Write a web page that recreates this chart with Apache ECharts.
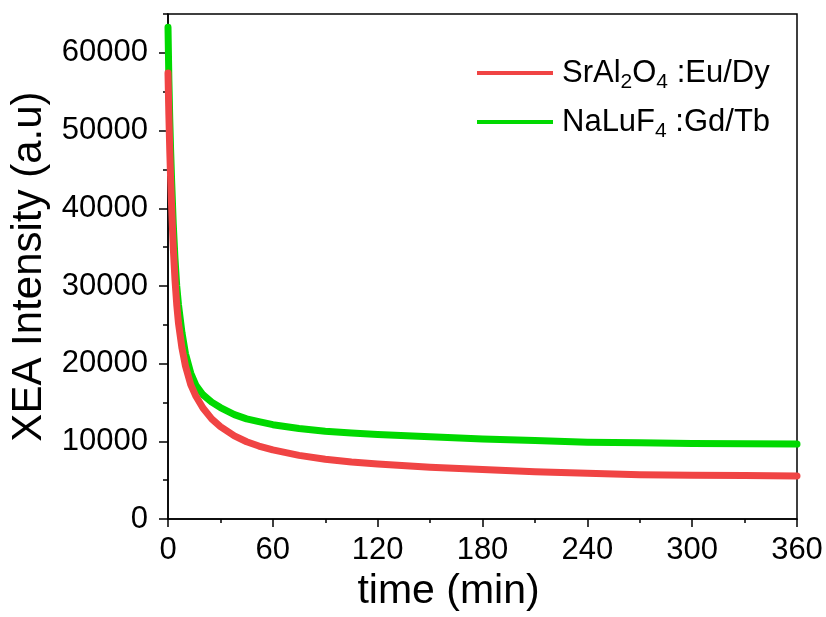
<!DOCTYPE html>
<html>
<head>
<meta charset="utf-8">
<script src="https://cdn.jsdelivr.net/npm/echarts@6/dist/echarts.min.js"></script>
<style>
html,body{margin:0;padding:0;background:#fff;}
#chart{width:826px;height:617px;}
</style>
</head>
<body>
<div id="chart"></div>
<script>
// ---- data ----
const timeMin = [0, 0.5, 1, 1.5, 2, 3, 4, 5, 6, 8, 10, 13, 16, 20, 25, 30, 38, 45, 52, 60, 75, 90, 105, 120, 150, 180, 210, 240, 270, 300, 330, 360];
const srAlValues = [57400, 52000, 47500, 43800, 40600, 35000, 30800, 27600, 25200, 22000, 19700, 17300, 15800, 14300, 12900, 11900, 10700, 9950, 9400, 8900, 8200, 7700, 7350, 7100, 6670, 6370, 6100, 5900, 5720, 5640, 5600, 5550];
const naLuValues = [63300, 56500, 51500, 47500, 44000, 38000, 33500, 30000, 27600, 24000, 21300, 18800, 17200, 16000, 15050, 14350, 13450, 12900, 12550, 12150, 11650, 11300, 11080, 10900, 10600, 10300, 10100, 9900, 9830, 9740, 9700, 9650];
const yTickValues = [0, 10000, 20000, 30000, 40000, 50000, 60000];
const seriesNames = ['SrAl2O4:Eu/Dy', 'NaLuF4:Gd/Tb'];
const legendLabels = {
  'SrAl2O4:Eu/Dy': 'SrAl{s|2}O{s|4} :Eu/Dy',
  'NaLuF4:Gd/Tb': 'NaLuF{s|4} :Gd/Tb'
};
const xTitle = 'time (min)';
const yTitle = 'XEA Intensity (a.u)';

const FONT = '"Liberation Sans", Arial, sans-serif';
const pair = (xs, ys) => xs.map((x, i) => [x, ys[i]]);

const chart = echarts.init(document.getElementById('chart'), null, {renderer: 'canvas'});
chart.setOption({
  animation: false,
  backgroundColor: '#fff',
  grid: {left: 168, right: 29, top: 14, bottom: 96, show: true, borderColor: '#000', borderWidth: 1.5, backgroundColor: 'transparent'},
  legend: {
    orient: 'vertical', left: 477, top: 53, padding: 0,
    icon: 'rect', itemWidth: 76, itemHeight: 4, itemGap: 9,
    data: seriesNames,
    formatter: n => legendLabels[n],
    textStyle: {
      fontSize: 31, fontFamily: FONT, color: '#000', lineHeight: 40, padding: [0, 0, 0, 4],
      rich: {s: {fontSize: 21, fontFamily: FONT, color: '#000', lineHeight: 24, verticalAlign: 'bottom'}}
    }
  },
  xAxis: {
    type: 'value', min: 0, max: 360, interval: 60,
    axisLine: {show: true, lineStyle: {color: '#000', width: 1.5}},
    axisTick: {show: true, inside: false, length: 8, lineStyle: {color: '#000', width: 1.5}},
    minorTick: {show: true, splitNumber: 2, length: 4, lineStyle: {color: '#000', width: 1.5}},
    splitLine: {show: false},
    axisLabel: {fontSize: 31, fontFamily: FONT, color: '#000', margin: 16},
    name: xTitle, nameLocation: 'middle', nameGap: 49,
    nameTextStyle: {fontSize: 41, fontFamily: FONT, color: '#000', padding: [0, 68, 0, 0]}
  },
  yAxis: [{
    type: 'value', min: 0, max: 65000, interval: 10000,
    axisLine: {show: true, lineStyle: {color: '#000', width: 1.5}},
    axisTick: {show: true, inside: false, length: 9, lineStyle: {color: '#000', width: 1.5}},
    splitLine: {show: false},
    axisLabel: {
      fontSize: 31, fontFamily: FONT, color: '#000', margin: 20, showMaxLabel: false,
      formatter: v => (yTickValues.indexOf(v) >= 0 ? String(v) : '')
    },
    name: yTitle, nameLocation: 'middle', nameGap: 117,
    nameTextStyle: {fontSize: 42, fontFamily: FONT, color: '#000'}
  }, {
    type: 'value', min: 0, max: 65000, interval: 5000, position: 'left',
    axisLine: {show: false},
    axisTick: {show: true, inside: false, length: 5, lineStyle: {color: '#000', width: 1.5}},
    splitLine: {show: false},
    axisLabel: {show: false}
  }],
  series: [{
    name: seriesNames[1], type: 'line', yAxisIndex: 0, data: pair(timeMin, naLuValues),
    showSymbol: false, symbol: 'none', smooth: false,
    lineStyle: {color: '#00d900', width: 7, join: 'round', cap: 'round'}, itemStyle: {color: '#00d900'}, z: 2
  }, {
    name: seriesNames[0], type: 'line', yAxisIndex: 0, data: pair(timeMin, srAlValues),
    showSymbol: false, symbol: 'none', smooth: false,
    lineStyle: {color: '#f04444', width: 7, join: 'round', cap: 'round'}, itemStyle: {color: '#f04444'}, z: 3
  }]
});
</script>
</body>
</html>
